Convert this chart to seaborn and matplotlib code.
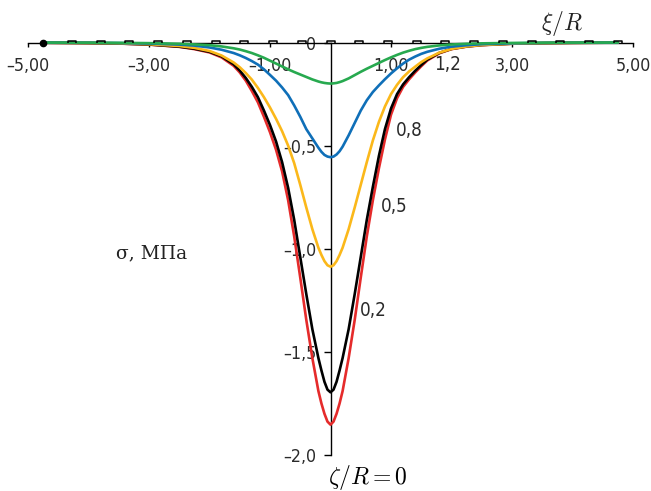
import numpy as np
import pandas as pd
import matplotlib
matplotlib.use("Agg")
import matplotlib.pyplot as plt
import seaborn as sns
from matplotlib import font_manager
from matplotlib.font_manager import FontProperties

# ---------------- data ----------------
x_right = [0, 0.05, 0.1, 0.15, 0.2, 0.3, 0.4, 0.5, 0.6, 0.7, 0.8, 0.9, 1.0,
           1.1, 1.2, 1.3, 1.4, 1.5, 1.6, 1.8, 2.0, 2.25, 2.5, 3.0, 3.5, 4.0, 4.75]

curve_names = ["0", "0,2", "0,5", "0,8", "1,2"]   # zeta/R

# values right of the axis (x >= 0)
red_right = [-1.853, -1.838, -1.80, -1.75, -1.69, -1.53, -1.345, -1.14, -0.94, -0.765,
             -0.61, -0.47, -0.35, -0.27, -0.215, -0.178, -0.145, -0.115, -0.087,
             -0.052, -0.032, -0.02, -0.013, -0.006, -0.003, -0.0015, -0.0005]
black_right = [-1.696, -1.683, -1.645, -1.59, -1.53, -1.39, -1.22, -1.04, -0.86, -0.70,
               -0.55, -0.42, -0.32, -0.25, -0.203, -0.168, -0.137, -0.109, -0.083,
               -0.05, -0.031, -0.019, -0.012, -0.0055, -0.0028, -0.0014, -0.0005]
yellow_right = [-1.087, -1.08, -1.06, -1.03, -0.995, -0.905, -0.80, -0.69, -0.58, -0.475,
                -0.385, -0.31, -0.25, -0.205, -0.168, -0.14, -0.117, -0.095, -0.077,
                -0.049, -0.031, -0.019, -0.012, -0.0055, -0.0028, -0.0014, -0.0005]
blue_right = [-0.556, -0.553, -0.543, -0.527, -0.505, -0.45, -0.39, -0.33, -0.28, -0.24,
              -0.208, -0.178, -0.15, -0.125, -0.102, -0.083, -0.068, -0.055, -0.045,
              -0.03, -0.02, -0.013, -0.008, -0.004, -0.002, -0.001, -0.0004]
green_right = [-0.199, -0.198, -0.196, -0.192, -0.187, -0.174, -0.158, -0.142, -0.127, -0.113,
               -0.099, -0.085, -0.072, -0.06, -0.049, -0.04, -0.032, -0.026, -0.021,
               -0.014, -0.0095, -0.006, -0.004, -0.002, -0.001, -0.0005, -0.0002]

# values left of the axis, at x = -0.05, -0.1, ... -4.75 (outward)
red_left = [-1.838, -1.80, -1.75, -1.69, -1.53, -1.345, -1.14, -0.94, -0.765, -0.625,
            -0.52, -0.435, -0.36, -0.29, -0.235, -0.185, -0.145, -0.113, -0.072,
            -0.048, -0.032, -0.021, -0.01, -0.005, -0.0025, -0.001]
black_left = [-1.683, -1.645, -1.59, -1.53, -1.39, -1.22, -1.04, -0.86, -0.705, -0.58,
              -0.48, -0.40, -0.33, -0.265, -0.215, -0.172, -0.136, -0.106, -0.067,
              -0.045, -0.03, -0.02, -0.0095, -0.0048, -0.0024, -0.001]
yellow_left = [-1.08, -1.06, -1.03, -0.995, -0.905, -0.80, -0.69, -0.585, -0.50, -0.43,
               -0.37, -0.315, -0.265, -0.22, -0.18, -0.148, -0.12, -0.097, -0.063,
               -0.041, -0.026, -0.017, -0.008, -0.004, -0.002, -0.0008]
blue_left = [-0.553, -0.545, -0.53, -0.51, -0.465, -0.42, -0.36, -0.305, -0.255, -0.218,
             -0.185, -0.157, -0.13, -0.107, -0.09, -0.075, -0.062, -0.051, -0.035,
             -0.024, -0.015, -0.01, -0.005, -0.0025, -0.0012, -0.0005]
green_left = [-0.198, -0.196, -0.193, -0.189, -0.179, -0.167, -0.155, -0.143, -0.13, -0.116,
              -0.102, -0.088, -0.074, -0.062, -0.051, -0.042, -0.034, -0.028, -0.019,
              -0.013, -0.009, -0.006, -0.003, -0.0015, -0.0008, -0.0003]

axis_marks_x = [-4.275, -3.8, -3.325, -2.85, -2.375, -1.9, -1.425, -0.95, -0.475, 0,
                0.475, 0.95, 1.425, 1.9, 2.375, 2.85, 3.325, 3.8, 4.275, 4.75]
start_dot_x = [-4.75]

x_ticks = [-5, -3, -1, 1, 3, 5]
x_tick_labels = ["–5,00", "–3,00", "–1,00", "1,00", "3,00", "5,00"]
y_ticks = [0, -0.5, -1.0, -1.5, -2.0]
y_tick_labels = ["0", "–0,5", "–1,0", "–1,5", "–2,0"]

colors = ["#e52b2b", "#000000", "#fbb81a", "#0f6fb8", "#27a94f"]

# ---------------- build table ----------------
x_full = [-v for v in x_right[1:]][::-1] + x_right
series = [(red_left, red_right), (black_left, black_right), (yellow_left, yellow_right),
          (blue_left, blue_right), (green_left, green_right)]
rows = []
for name, (lft, rgt) in zip(curve_names, series):
    ys = lft[::-1] + rgt
    for xv, yv in zip(x_full, ys):
        rows.append({"x": xv, "sigma": yv, "curve": name})
df = pd.DataFrame(rows)

# ---------------- style ----------------
sns.set_theme(style="white")
plt.rcParams["font.family"] = ["Liberation Sans", "DejaVu Sans"]
plt.rcParams["mathtext.fontset"] = "cm"

# look for a narrow / condensed sans face
narrow_path = None
for key in ["LiberationSansNarrow-Regular", "DejaVuSansCondensed.ttf"]:
    for f in font_manager.fontManager.ttflist:
        if key in f.fname:
            narrow_path = f.fname
            break
    if narrow_path:
        break


def tick_font(size):
    if narrow_path:
        return FontProperties(fname=narrow_path, size=size)
    return FontProperties(family=["Liberation Sans", "DejaVu Sans"], size=size - 1.5)


fig = plt.figure(figsize=(6.51, 4.91), dpi=100)
ax = fig.add_axes([28 / 651, 36 / 491, 605 / 651, 433.1 / 491])
ax.set_facecolor("none")

sns.lineplot(data=df, x="x", y="sigma", hue="curve", hue_order=curve_names,
             palette=colors, linewidth=1.9, legend=False, estimator=None,
             sort=True, ax=ax, zorder=3, clip_on=False)

mark = [(-1, 0), (-1, 0.5), (1, 0.5), (1, 0)]
ax.plot(axis_marks_x, [0] * len(axis_marks_x), linestyle="none", marker=mark,
        markersize=5.5, markerfacecolor="none", markeredgecolor="black",
        markeredgewidth=1.1, zorder=4, clip_on=False)
ax.plot(start_dot_x, [0], linestyle="none", marker="o", markersize=4.5,
        color="black", zorder=4, clip_on=False)

ax.set_xlim(-5, 5)
ax.set_ylim(-2.0, 0.1)
for s in ["top", "right"]:
    ax.spines[s].set_visible(False)
ax.spines["left"].set_position(("data", 0))
ax.spines["bottom"].set_position(("data", 0))
ax.spines["left"].set_bounds(-2.0, 0)
ax.spines["bottom"].set_bounds(-5, 5)
for s in ["left", "bottom"]:
    ax.spines[s].set_color("black")
    ax.spines[s].set_linewidth(1.0)

ax.set_xticks(x_ticks)
ax.set_xticklabels(x_tick_labels)
ax.set_yticks(y_ticks)
ax.set_yticklabels(y_tick_labels)
ax.tick_params(axis="x", direction="out", length=3.2, width=1.0, pad=7,
               colors="black", labelcolor="#2a2a2a", bottom=True)
ax.tick_params(axis="y", direction="out", length=5.4, width=1.0, pad=4.8,
               colors="black", labelcolor="#2a2a2a", left=True)
for lab in ax.get_xticklabels() + ax.get_yticklabels():
    lab.set_fontproperties(tick_font(12.8))
ax.set_xlabel("")
ax.set_ylabel("")

lab_kw = dict(color="#2a2a2a", ha="center", va="center", zorder=5,
              fontproperties=tick_font(13.5))
ax.text(1.30, -0.427, "0,8", **lab_kw)
ax.text(1.06, -0.793, "0,5", **lab_kw)
ax.text(0.705, -1.297, "0,2", **lab_kw)
ax.text(1.94, -0.107, "1,2", **lab_kw)

ax.text(3.83, 0.09, r"$\xi/R$", fontsize=17, ha="center", va="center",
        color="#222222", clip_on=False)
fig.text(367.5 / 651, 1 - 478 / 491, r"$\zeta/R=\mathbf{0}$", fontsize=17,
         ha="center", va="center", color="#000000")
ax.text(-2.95, -1.02, "σ, МПа", fontsize=13.5, family=["DejaVu Serif"],
        ha="center", va="center", color="#222222")

fig.savefig("out.png", dpi=100)
